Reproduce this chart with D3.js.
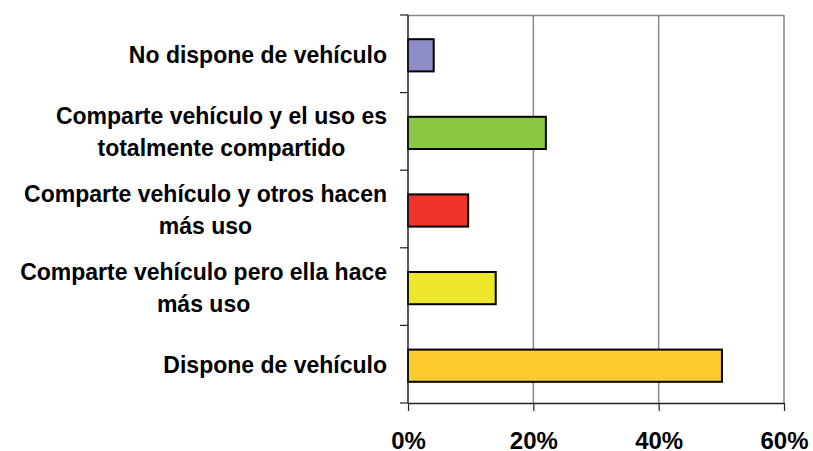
<!DOCTYPE html>
<html>
<head>
<meta charset="utf-8">
<script src="https://cdn.jsdelivr.net/npm/d3@7"></script>
<style>
  html, body { margin: 0; padding: 0; background: #fff; }
  svg { display: block; }
  text { font-family: "Liberation Sans", Arial, sans-serif; font-weight: bold; fill: #000; }
</style>
</head>
<body>
<svg id="chart" width="813" height="451"></svg>
<script>
// Data (top to bottom)
const categories = [
  ["No dispone de vehículo"],
  ["Comparte vehículo y el uso es", "totalmente compartido"],
  ["Comparte vehículo y otros hacen", "más uso"],
  ["Comparte vehículo pero ella hace", "más uso"],
  ["Dispone de vehículo"]
];
const categoryKeys = ["nodispone", "total", "otros", "ella", "dispone"];
const values = [4.1, 22.0, 9.6, 14.0, 50.1];
const colors = ["#8E8DC7", "#8DC843", "#EE332B", "#EDE62A", "#FCCB2E"];
const xTicks = [0, 20, 40, 60];
const xTickLabels = ["0%", "20%", "40%", "60%"];

(function () {
const svg = d3.select("#chart");
const pLeft = 408, pRight = 784, pTop = 15, pBottom = 403;

const x = d3.scaleLinear().domain([0, 60]).range([pLeft, pRight]);
const y = d3.scaleBand().domain(categoryKeys).range([pTop, pBottom])
  .paddingInner(0.585).paddingOuter(0.2925);
const step = y.step();
const offset = (step - y.bandwidth()) / 2;

// top border
svg.append("line").attr("x1", pLeft).attr("x2", pRight).attr("y1", pTop + 0.5).attr("y2", pTop + 0.5)
  .attr("stroke", "#878787").attr("stroke-width", 1.5);

// gridlines
svg.selectAll("line.grid").data(xTicks.filter(d => d > 0)).enter().append("line")
  .attr("class", "grid")
  .attr("x1", d => x(d)).attr("x2", d => x(d))
  .attr("y1", pTop).attr("y2", pBottom)
  .attr("stroke", "#878787").attr("stroke-width", 1.5);

// bars
svg.selectAll("rect.bar").data(categoryKeys).enter().append("rect")
  .attr("class", "bar")
  .attr("x", x(0))
  .attr("y", d => y(d) + 1.5)
  .attr("width", (d, i) => x(values[i]) - x(0))
  .attr("height", y.bandwidth())
  .attr("fill", (d, i) => colors[i])
  .attr("stroke", "#000").attr("stroke-width", 2);

// left axis line + ticks
svg.append("line").attr("x1", pLeft).attr("x2", pLeft).attr("y1", pTop).attr("y2", pBottom)
  .attr("stroke", "#222").attr("stroke-width", 1.5);
const boundaries = categoryKeys.map(k => y(k) - offset).concat([pBottom]);
svg.selectAll("line.ytick").data(boundaries).enter().append("line")
  .attr("class", "ytick")
  .attr("x1", pLeft - 8).attr("x2", pLeft)
  .attr("y1", d => d).attr("y2", d => d)
  .attr("stroke", "#222").attr("stroke-width", 1.2);

// bottom axis via d3
const xAxis = d3.axisBottom(x).tickValues(xTicks).tickFormat((d, i) => xTickLabels[i])
  .tickSize(8).tickPadding(21).tickSizeOuter(0);
const gx = svg.append("g").attr("transform", `translate(0,${pBottom})`).call(xAxis);
gx.select(".domain").attr("stroke", "#222").attr("stroke-width", 1.5);
gx.selectAll(".tick line").attr("stroke", "#222").attr("stroke-width", 1.2);
gx.selectAll(".tick text").attr("font-size", 24).attr("font-family", "Liberation Sans, Arial, sans-serif")
  .attr("font-weight", "bold").attr("fill", "#000");

// category labels
const lineH = 32;
categoryKeys.forEach((k, i) => {
  const lines = categories[i];
  const cy = y(k) + y.bandwidth() / 2 + 1.5;
  const t = svg.append("text")
    .attr("text-anchor", "middle")
    .attr("font-size", 23);
  lines.forEach((ln, j) => {
    t.append("tspan")
      .attr("x", 0)
      .attr("y", cy + (j - (lines.length - 1) / 2) * lineH + 7.5)
      .text(ln);
  });
  const w = d3.max(t.selectAll("tspan").nodes(), n => n.getComputedTextLength());
  const cx = 387 - w / 2;
  t.selectAll("tspan").attr("x", cx);
});
})();
</script>
</body>
</html>
